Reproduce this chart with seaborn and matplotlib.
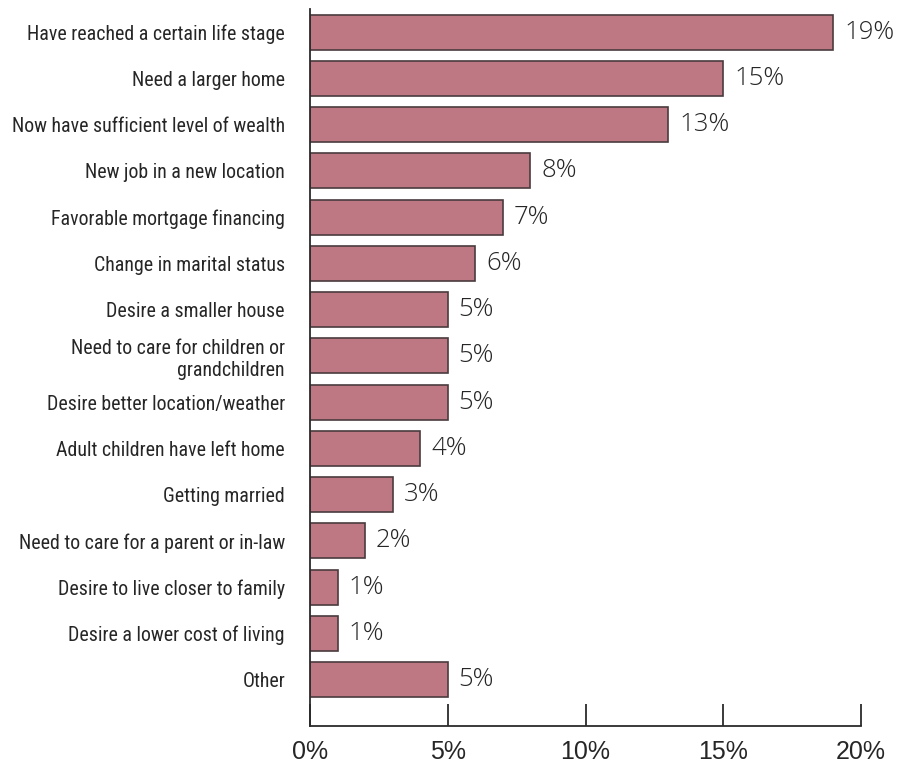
import matplotlib
matplotlib.use("Agg")
import matplotlib.pyplot as plt
import seaborn as sns
import pandas as pd

reasons = [
    "Have reached a certain life stage",
    "Need a larger home",
    "Now have sufficient level of wealth",
    "New job in a new location",
    "Favorable mortgage financing",
    "Change in marital status",
    "Desire a smaller house",
    "Need to care for children or\ngrandchildren",
    "Desire better location/weather",
    "Adult children have left home",
    "Getting married",
    "Need to care for a parent or in-law",
    "Desire to live closer to family",
    "Desire a lower cost of living",
    "Other",
]
shares = [19, 15, 13, 8, 7, 6, 5, 5, 5, 4, 3, 2, 1, 1, 5]
xticks = [0, 5, 10, 15, 20]

sns.set_style("white")
df = pd.DataFrame({"reason": reasons, "share": shares})

fig = plt.figure(figsize=(9.14, 7.63), dpi=100)
ax = fig.add_axes([310 / 914, 1 - 726 / 763, (861 - 310) / 914, (726 - 9) / 763])

sns.barplot(data=df, y="reason", x="share", orient="h", ax=ax,
            color="#BE7884", saturation=1, width=0.756,
            edgecolor="#4a3b3e", linewidth=1.2)

ax.set_xlim(0, 20)
ax.set_ylim(15.0, -0.5)
ax.set_xlabel("")
ax.set_ylabel("")

text_col = "#262626"
ax.set_xticks(xticks)
ax.set_xticklabels([f"{t}%" for t in xticks], family="Liberation Sans",
                   fontsize=18, color=text_col)
ax.tick_params(axis="x", bottom=True, direction="in", length=16, width=1.3,
               color="#2b2b2b", pad=10)
ax.tick_params(axis="y", left=False, length=0, pad=18)
for lab in ax.get_yticklabels():
    lab.set_family(["Roboto Condensed", "Liberation Sans Narrow", "Roboto"])
    lab.set_fontsize(14.3)
    lab.set_color(text_col)
    lab.set_linespacing(1.2)

for side in ("top", "right"):
    ax.spines[side].set_visible(False)
for side in ("left", "bottom"):
    ax.spines[side].set_color("#2b2b2b")
    ax.spines[side].set_linewidth(1.3)

for i, v in enumerate(shares):
    ax.annotate(f"{v}%", xy=(v, i), xytext=(11, 0), textcoords="offset pixels",
                va="center", ha="left", family="Open Sans", fontweight="light",
                fontsize=18.5, color=text_col)

fig.savefig("out.png", dpi=100)
